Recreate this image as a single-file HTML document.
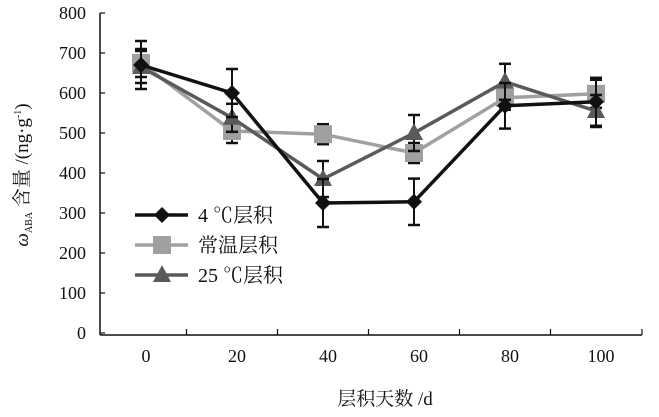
<!DOCTYPE html>
<html><head><meta charset="utf-8"><style>
body{margin:0;background:#fff;}
svg text{font-family:"Liberation Serif","Noto Serif CJK SC",serif;fill:#111;}
</style></head><body>
<svg width="659" height="412" xmlns="http://www.w3.org/2000/svg">
<g id="axes"></g><g id="series"></g><g id="legend"></g>
<text x="385" y="405" font-size="19" text-anchor="middle">层积天数 /d</text>
<text transform="translate(28,175) rotate(-90)" font-size="19" text-anchor="middle"><tspan font-style="italic">ω</tspan><tspan font-size="10" dy="4">ABA</tspan><tspan dy="-4"> 含量 /(ng·g</tspan><tspan font-size="10" dy="-7">-1</tspan><tspan dy="7">)</tspan></text>
</svg>
<script>
const days=[0,20,40,60,80,100];
const xLabels=["0","20","40","60","80","100"];
const yTicks=[0,100,200,300,400,500,600,700,800];
const s4=[670,600,325,328,568,578];
const s4err=[60,60,60,58,57,60];
const sRT=[675,505,497,450,588,598];
const sRTerr=[35,30,25,25,30,35];
const s25=[665,538,385,500,628,555];
const s25err=[40,35,45,45,45,40];
const NS="http://www.w3.org/2000/svg";
const X=i=>141+i*91;
const Y=v=>333-v*0.4;
function mk(t,a,p){const e=document.createElementNS(NS,t);for(const k in a)e.setAttribute(k,a[k]);p.appendChild(e);return e;}
const ax=document.getElementById('axes');
let l=mk('line',{x1:100,y1:13,x2:100,y2:335,stroke:'#111','stroke-width':1.5},ax);


l=mk('line',{x1:100,y1:335,x2:642,y2:335,stroke:'#111','stroke-width':1.5},ax);


yTicks.forEach(v=>{mk('line',{x1:100,y1:Y(v),x2:105,y2:Y(v),stroke:'#111','stroke-width':1.2},ax);
const t=mk('text',{x:86,y:Y(v)+6,'font-size':18,'text-anchor':'end'},ax);t.textContent=v;

});
for(let i=0;i<=days.length;i++){const x=i<days.length?X(i)-45.5:642;if(i>0)mk('line',{x1:x,y1:335,x2:x,y2:329,stroke:'#111','stroke-width':1.2},ax);}
xLabels.forEach((s,i)=>{const t=mk('text',{x:X(i)+5,y:362,'font-size':18,'text-anchor':'middle'},ax);t.textContent=s;

});
const sg=document.getElementById('series');
function marker(g,type,x,y,c){
 if(type==='d')return mk('polygon',{points:`${x},${y-8} ${x+8},${y} ${x},${y+8} ${x-8},${y}`,fill:c},g);
 if(type==='s')return mk('rect',{x:x-9,y:y-9,width:18,height:18,fill:c},g);
 return mk('polygon',{points:`${x},${y-10} ${x+9},${y+7} ${x-9},${y+7}`,fill:c},g);}
function series(vals,errs,c,type,name){
 const g=mk('g',{},sg);
 
 
 vals.forEach((v,i)=>{const x=X(i);mk('line',{x1:x,y1:Y(v-errs[i]),x2:x,y2:Y(v+errs[i]),stroke:'#111','stroke-width':2},g);
 mk('line',{x1:x-6,y1:Y(v-errs[i]),x2:x+6,y2:Y(v-errs[i]),stroke:'#111','stroke-width':2.5},g);
 mk('line',{x1:x-6,y1:Y(v+errs[i]),x2:x+6,y2:Y(v+errs[i]),stroke:'#111','stroke-width':2.5},g);});
 mk('polyline',{points:vals.map((v,i)=>X(i)+','+Y(v)).join(' '),fill:'none',stroke:c,'stroke-width':3.5},g);
 vals.forEach((v,i)=>{const m=marker(g,type,X(i),Y(v),c);
 
 });}
series(sRT,sRTerr,'#a0a0a0','s','series-room-temp');
series(s25,s25err,'#5a5a5a','t','series-25c');
series(s4,s4err,'#111','d','series-4c');
const lg=document.getElementById('legend');
[['4 ℃层积','#111','d'],['常温层积','#a0a0a0','s'],['25 ℃层积','#5a5a5a','t']].forEach((e,i)=>{
 const y=215+i*30;const g=mk('g',{},lg);
 
 
 mk('line',{x1:135,y1:y,x2:188,y2:y,stroke:e[1],'stroke-width':3.5},g);marker(g,e[2],162,y,e[1]);
 const t=mk('text',{x:198,y:y+7,'font-size':20},g);t.textContent=e[0];});
</script>
</body></html>
